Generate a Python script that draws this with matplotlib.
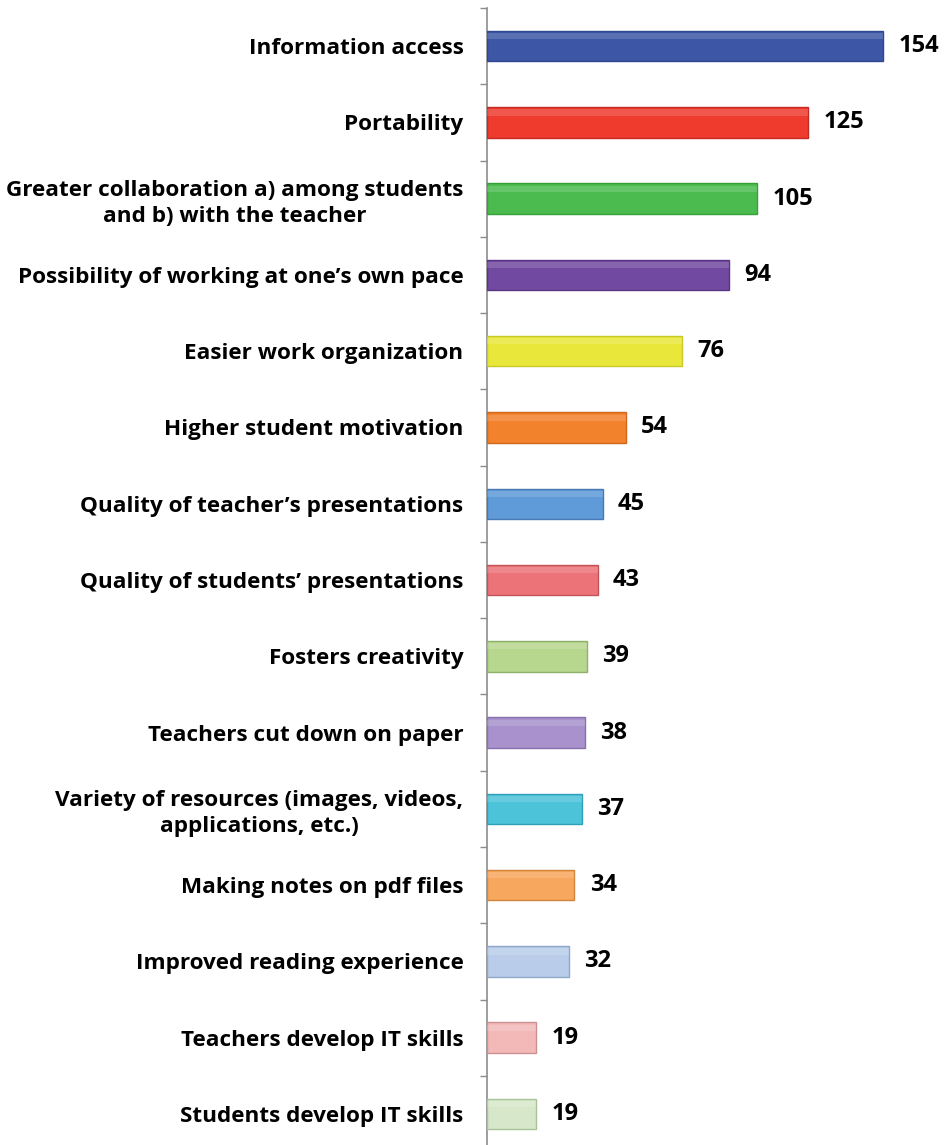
import matplotlib.pyplot as plt
import numpy as np

categories = [
    "Information access",
    "Portability",
    "Greater collaboration a) among students\nand b) with the teacher",
    "Possibility of working at one\u2019s own pace",
    "Easier work organization",
    "Higher student motivation",
    "Quality of teacher\u2019s presentations",
    "Quality of students\u2019 presentations",
    "Fosters creativity",
    "Teachers cut down on paper",
    "Variety of resources (images, videos,\napplications, etc.)",
    "Making notes on pdf files",
    "Improved reading experience",
    "Teachers develop IT skills",
    "Students develop IT skills",
]
values = [154, 125, 105, 94, 76, 54, 45, 43, 39, 38, 37, 34, 32, 19, 19]
colors = ["#3D57A6", "#EE3B2E", "#4CBB4F", "#7149A0", "#E9E83A", "#F3822D",
          "#5E9BD8", "#EC7478", "#B7D68E", "#A891CC", "#4CC3D9", "#F8A85E",
          "#B9CDEA", "#F3B9B9", "#D6E8C9"]
edges = ["#2F4690", "#C42A22", "#36A03A", "#5A3585", "#C9C828", "#D0661A",
         "#4679B5", "#C25458", "#8FB06A", "#8670AC", "#2FA0B6", "#D0843C",
         "#8FA6C8", "#CC9090", "#A8C29A"]

plt.rcParams["font.family"] = ["Open Sans", "DejaVu Sans"]
plt.rcParams["font.weight"] = "bold"

fig = plt.figure(figsize=(9.52, 11.45), dpi=100)
H = 1145.0
top = 1 - 8 / H
height = 15 * 76.27 / H
ax = fig.add_axes([487 / 952, top - height, 1 - 487 / 952, height])

y = np.arange(len(categories))
ax.barh(y, values, height=0.4, color=colors, edgecolor=edges, linewidth=1.0, zorder=3)
# soft top highlight for the bevelled look
ax.barh(y - 0.13, values, height=0.08, color="white", alpha=0.15, linewidth=0, zorder=4)

for yi, v in zip(y, values):
    ax.annotate(f"{v}", xy=(v, yi), xytext=(11, 0), textcoords="offset points",
                ha="left", va="center", fontsize=17, fontweight="bold", color="black")

ax.set_xlim(0, (952 - 487) / 2.571)
ax.set_ylim(len(categories) - 0.5, -0.5)
ax.set_yticks(y)
ax.set_yticklabels(categories, fontsize=16.2, fontweight="bold", multialignment="center",
                   linespacing=1.3)
ax.set_yticks(np.arange(-0.5, len(categories), 1), minor=True)
ax.tick_params(axis="y", which="major", length=0, pad=17)
ax.tick_params(axis="y", which="minor", length=5, width=1.0, color="#8C8C8C", direction="out")
ax.set_xticks([])
for side in ("top", "right", "bottom"):
    ax.spines[side].set_visible(False)
ax.spines["left"].set_color("#8C8C8C")
ax.spines["left"].set_linewidth(1.2)

fig.savefig("out.png", dpi=100)
